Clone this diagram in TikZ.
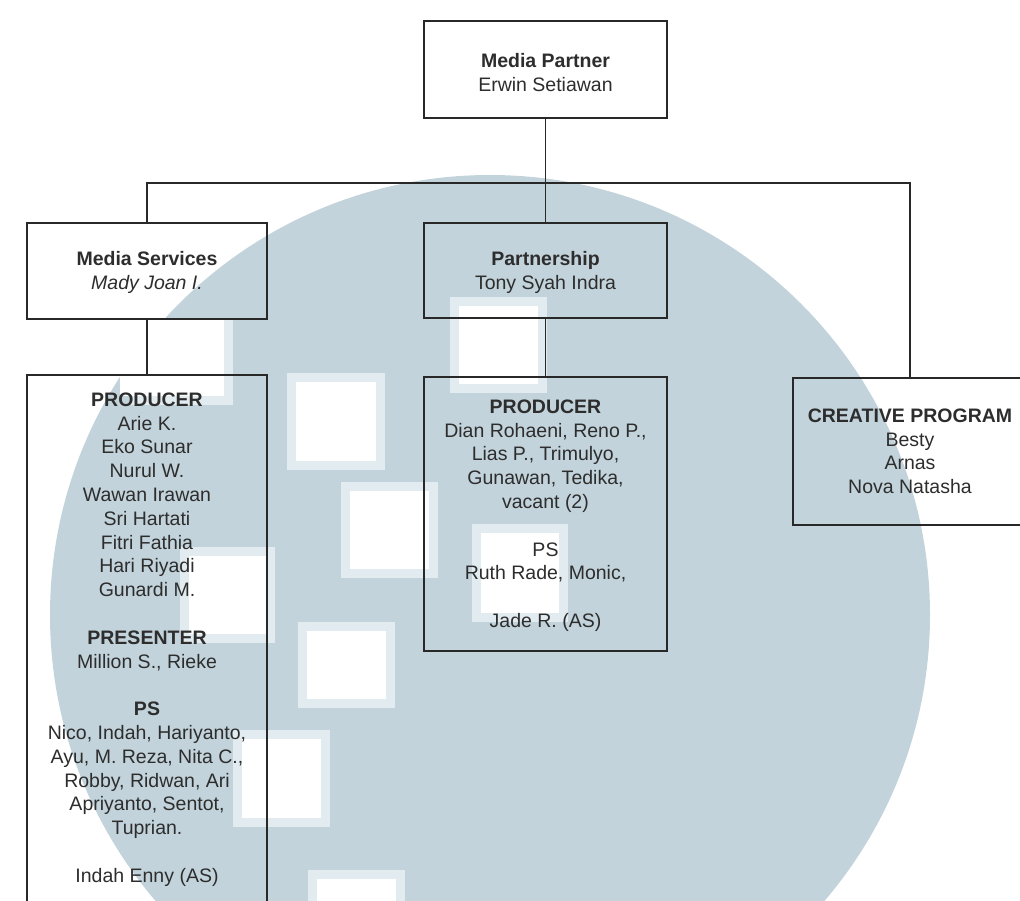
\documentclass[tikz,border=0pt]{standalone}
\usepackage{fontspec}
\setmainfont{Liberation Sans}
\definecolor{wm}{RGB}{194,211,219}
\definecolor{wmlight}{RGB}{226,235,239}
\definecolor{linec}{RGB}{40,40,40}
\definecolor{textc}{RGB}{45,45,45}
\newcommand{\mystrut}{\rule{0pt}{15pt}}
\tikzset{
  box/.style={draw=linec, line width=1.2pt, rectangle, inner sep=0pt},
  conn/.style={draw=linec, line width=1.1pt},
  txt/.style={anchor=north, inner sep=0pt, align=center, text=textc,
              font=\fontsize{19.5pt}{23.8pt}\selectfont},
  wsq/.style={fill=wmlight},
  wsqin/.style={fill=white}
}
\newcommand{\wsquare}[4]{%
  \fill[wsq] (#1,#2) rectangle (#3,#4);
  \fill[wsqin] ({#1+9},{#2+9}) rectangle ({#3-9},{#4-9});}
\begin{document}
\begin{tikzpicture}[x=1pt,y=-1pt]
\useasboundingbox (0,0) rectangle (1020,900);
\clip (0,0) rectangle (1020,900);
\fill[white] (0,0) rectangle (1020,900);
% watermark
\fill[wm] (490,615) circle[radius=440pt];
\wsquare{450}{297}{547}{393}
\wsquare{287}{373}{385}{470}
\wsquare{341}{482}{438}{578}
\wsquare{472}{524}{568}{622}
\wsquare{180}{547}{275}{643}
\wsquare{298}{622}{395}{708}
\wsquare{233}{730}{330}{827}
\wsquare{308}{870}{405}{920}
\fill[wmlight] (130,318) rectangle (233,405);
\fill[white] (120,318) rectangle (224,396);

% boxes
\node[box, minimum width=243pt, minimum height=97pt] (mp) at (545.5,69.5) {};
\node[box, minimum width=240pt, minimum height=96pt] (ms) at (147,271) {};
\node[box, minimum width=243pt, minimum height=95pt] (part) at (545.5,270.5) {};
\node[box, minimum width=240pt, minimum height=545pt] (prodL) at (147,647.5) {};
\node[box, minimum width=243pt, minimum height=274pt] (prodC) at (545.5,514) {};
\node[box, minimum width=234pt, minimum height=147pt] (cr) at (910,451.5) {};

% connectors
\coordinate (hl) at (0,183);
\draw[conn] (mp.south) -- (part.north);
\draw[conn] (ms.north) -- (ms.north |- hl) -| (cr.north);
\draw[conn] (ms.south) -- (prodL.north);
\draw[conn] (part.south) -- (prodC.north);

% texts
\node[txt] (tmp) at (545.5,52) {\mystrut\textbf{Media Partner}\\Erwin Setiawan};
\node[txt] (tms) at (147,250) {\mystrut\textbf{Media Services}\\\textit{Mady Joan I.}};
\node[txt] (tpart) at (545.5,250) {\mystrut\textbf{Partnership}\\Tony Syah Indra};
\node[txt] (tprodL) at (147,391) {\mystrut\textbf{PRODUCER}\\Arie K.\\Eko Sunar\\Nurul W.\\Wawan Irawan\\Sri Hartati\\Fitri Fathia\\Hari Riyadi\\Gunardi M.\\[23.8pt]\textbf{PRESENTER}\\Million S., Rieke\\[23.8pt]\textbf{PS}\\Nico, Indah, Hariyanto,\\Ayu, M. Reza, Nita C.,\\Robby, Ridwan, Ari\\Apriyanto, Sentot,\\Tuprian.\\[23.8pt]Indah Enny (AS)};
\node[txt] (tprodC) at (545.5,398) {\mystrut\textbf{PRODUCER}\\Dian Rohaeni, Reno P.,\\Lias P., Trimulyo,\\Gunawan, Tedika,\\vacant (2)\\[23.8pt]PS\\Ruth Rade, Monic,\\[23.8pt]Jade R. (AS)};
\node[txt] (tcr) at (910,407) {\mystrut\textbf{CREATIVE PROGRAM}\\Besty\\Arnas\\Nova Natasha};
\end{tikzpicture}
\end{document}
